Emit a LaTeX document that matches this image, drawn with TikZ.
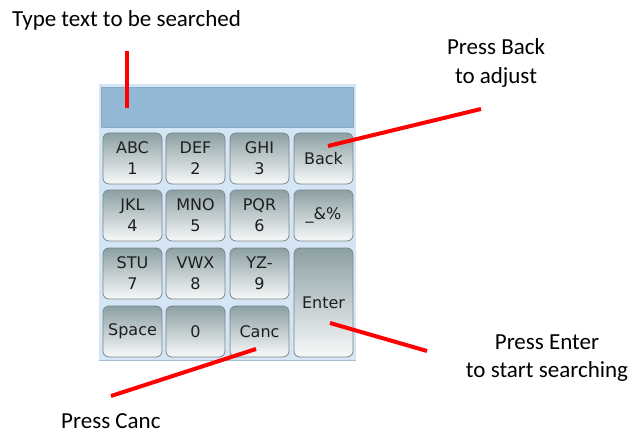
\documentclass[tikz,border=0pt]{standalone}
\usepackage{fontspec}
\setmainfont{Carlito}
\newfontfamily\keyfont{DejaVu Sans}
\definecolor{panelbg}{HTML}{D4E5F5}
\definecolor{panelline}{HTML}{A7BBCC}
\definecolor{fieldbg}{HTML}{93B8D6}
\definecolor{fieldline}{HTML}{86ABC8}
\definecolor{keytop}{HTML}{8CA0A4}
\definecolor{keymid}{HTML}{C6D0D2}
\definecolor{keybot}{HTML}{F7F9F9}
\definecolor{keyline}{HTML}{7A8688}
\definecolor{keytext}{HTML}{1E1E1E}
\definecolor{annred}{HTML}{FF0000}
\begin{document}
\begin{tikzpicture}[x=1pt,y=-1pt,
  keybox/.style={rectangle, rounded corners=6pt, draw=keyline, line width=0.8pt,
    top color=keytop, middle color=keymid, bottom color=keybot,
    minimum width=59pt, minimum height=51pt, inner sep=0pt, align=center,
    font=\keyfont\fontsize{16}{21}\selectfont, text=keytext},
  lbl/.style={font=\fontsize{23}{28.5}\selectfont, align=center, inner sep=0pt, text=black},
  pointer/.style={draw=annred, line width=4pt}]
\useasboundingbox (0,0) rectangle (630,436);
% panel
\node[rectangle, fill=panelbg, minimum width=257pt, minimum height=276pt, inner sep=0pt] (panel) at (227.5,222) {};
\draw[panelline, line width=1pt] (panel.south west) -- (panel.south east);
\node[rectangle, fill=fieldbg, draw=fieldline, line width=0.6pt, minimum width=252pt, minimum height=40pt, inner sep=0pt] (field) at (227,107) {};
% keys
\node[keybox] (abc) at (132.5,158.5) {ABC\\1};
\node[keybox] (def) at (195.5,158.5) {DEF\\2};
\node[keybox] (ghi) at (259.5,158.5) {GHI\\3};
\node[keybox] (back) at (323.5,158.5) {Back};
\node[keybox] (jkl) at (132.5,215.5) {JKL\\4};
\node[keybox] (mno) at (195.5,215.5) {MNO\\5};
\node[keybox] (pqr) at (259.5,215.5) {PQR\\6};
\node[keybox] (sym) at (323.5,215.5) {\_\&\%};
\node[keybox] (stu) at (132.5,273.5) {STU\\7};
\node[keybox] (vwx) at (195.5,273.5) {VWX\\8};
\node[keybox] (yz) at (259.5,273.5) {YZ-\\9};
\node[keybox, minimum height=109pt] (enter) at (323.5,302.5) {Enter};
\node[keybox] (space) at (132.5,331.5) {Space};
\node[keybox] (zero) at (195.5,331.5) {0};
\node[keybox] (canc) at (259.5,331.5) {Canc};
% labels
\node[lbl, anchor=base west] (typelbl) at (12,27) {Type text to be searched};
\node[lbl] (backlbl) at (496,63) {Press Back\\to adjust};
\node[lbl] (enterlbl) at (547,358) {Press Enter\\to start searching};
\node[lbl, anchor=base west] (canclbl) at (61,428.3) {Press Canc};
% pointers
\coordinate (typeA) at (127,51);
\coordinate (typeB) at (127,108);
\coordinate (backA) at (481,109);
\coordinate (backB) at (328,146);
\coordinate (enterA) at (330,323);
\coordinate (enterB) at (427,351);
\coordinate (cancA) at (256,349);
\coordinate (cancB) at (111,396);
\draw[pointer] (typeA) -- (typeB);
\draw[pointer] (backA) -- (backB);
\draw[pointer] (enterB) -- (enterA);
\draw[pointer] (cancA) -- (cancB);
\end{tikzpicture}
\end{document}
